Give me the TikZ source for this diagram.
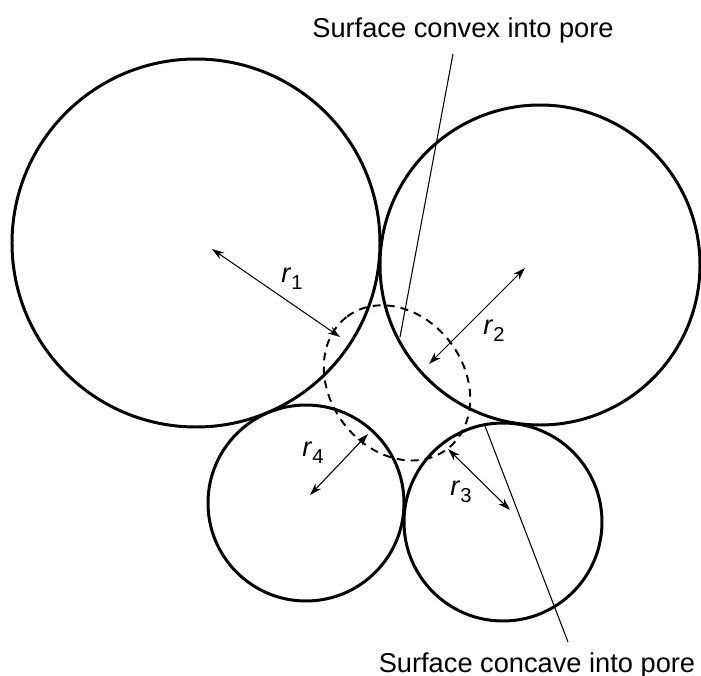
\documentclass[tikz,border=0pt]{standalone}
\usepackage{fontspec}
\setmainfont{Liberation Sans}
\usetikzlibrary{arrows.meta}
\newcommand{\rsub}[1]{\textit{r}\raisebox{-4pt}{\fontsize{11.5}{13}\selectfont #1}}
\tikzset{
  grain/.style={draw, line width=1.7pt},
  pore/.style={draw, line width=1.1pt, dash pattern=on 4.5pt off 3.5pt},
  radarrow/.style={{Stealth[length=7pt,width=4.5pt]}-{Stealth[length=7pt,width=4.5pt]},
    line width=0.6pt},
  leader/.style={line width=0.6pt},
  caption/.style={font=\fontsize{15.5}{18}\selectfont, inner sep=0pt, anchor=base},
  rlabel/.style={font=\fontsize{15.5}{18}\selectfont, inner sep=0pt}
}

\begin{document}
\begin{tikzpicture}[x=0.02cm, y=-0.02cm]
\useasboundingbox (0,0) rectangle (701,676);

% grains around the pore
\coordinate (c1) at (196,243);
\coordinate (c2) at (540,265);
\coordinate (c3) at (503,522);
\coordinate (c4) at (306,503);
\draw[grain] (c1) circle[radius=184];
\draw[grain] (c2) circle[radius=160];
\draw[grain] (c3) circle[radius=99];
\draw[grain] (c4) circle[radius=98];

% pore
\coordinate (pc) at (397,383);
\draw[pore, rotate around={127:(pc)}] (pc) ellipse[x radius=83, y radius=67];

% radii
\coordinate (r1a) at (212,249); \coordinate (r1b) at (340,337);
\coordinate (r2a) at (525,268); \coordinate (r2b) at (429,364);
\coordinate (r3a) at (510,510); \coordinate (r3b) at (448,449);
\coordinate (r4a) at (310,495); \coordinate (r4b) at (368,434);
\draw[radarrow] (r1a) -- (r1b);
\draw[radarrow] (r2a) -- (r2b);
\draw[radarrow] (r3a) -- (r3b);
\draw[radarrow] (r4a) -- (r4b);
\node[rlabel] (l1) at (292,279) {\rsub{1}};
\node[rlabel] (l2) at (494,331) {\rsub{2}};
\node[rlabel] (l3) at (461,492) {\rsub{3}};
\node[rlabel] (l4) at (313,453) {\rsub{4}};

% surfaces
\node[caption] (convex) at (463,37) {Surface convex into pore};
\node[caption] (concave) at (537,672) {Surface concave into pore};
\coordinate (cvxtop) at (453,54);
\coordinate (cvxtip) at (400,337);
\coordinate (ccvtop) at (485,426);
\coordinate (ccvend) at (568,642);
\draw[leader] (cvxtop) -- (cvxtip);
\draw[leader] (ccvtop) -- (ccvend);
\end{tikzpicture}
\end{document}
